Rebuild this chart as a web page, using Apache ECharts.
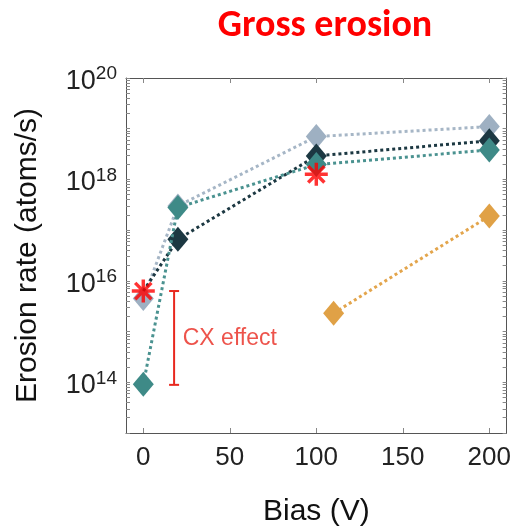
<!DOCTYPE html>
<html>
<head>
<meta charset="utf-8">
<script src="https://cdn.jsdelivr.net/npm/echarts@6/dist/echarts.min.js"></script>
<style>
  html, body { margin: 0; padding: 0; background: #fff; }
  #chart { width: 514px; height: 532px; }
</style>
</head>
<body>
<div id="chart"></div>
<script>
// Bias voltages (V) and erosion rates (atoms/s)
const biasMain = [0, 20, 100, 200];
const rateGrey = [4.5e15, 3.0e17, 7.0e18, 1.1e19];
const rateDark = [6.3e15, 6.6e16, 2.9e18, 5.8e18];
const rateTeal = [9.1e13, 2.8e17, 1.96e18, 3.8e18];
const biasOrange = [110, 200];
const rateOrange = [2.3e15, 1.9e17];
const biasStar = [0, 100];
const rateStar = [6.3e15, 1.26e18];

// CX effect bracket: [bias, upper rate, lower rate]
const cxBar = [17.8, 6.3e15, 8.9e13];
const cxLabel = [22.8, 7.2e14];

// Axis ticks
const xTicks = [0, 50, 100, 150, 200];
const yLabelTicks = [1e14, 1e16, 1e18, 1e20];
const yTicks = [];
for (let e = 13; e <= 20; e++) {
  yTicks.push(Math.pow(10, e));
  if (e < 20) {
    for (let m = 2; m <= 9; m++) yTicks.push(m * Math.pow(10, e));
  }
}

const FONT = "'Liberation Sans', Arial, Helvetica, sans-serif";
const frameColor = '#555';
const tickColor = '#888';

const pairs = (xs, ys) => xs.map((x, i) => [x, ys[i]]);

// eight-armed asterisk marker
const asterisk = 'path://M0 8.5L20 8.5L20 11.5L0 11.5Z' +
  'M8.5 0L11.5 0L11.5 20L8.5 20Z' +
  'M3.99 1.87L18.13 16.01L16.01 18.13L1.87 3.99Z' +
  'M1.87 16.01L16.01 1.87L18.13 3.99L3.99 18.13Z';

function lineSeries(name, xs, ys, color, lineColor, z, hideFirst) {
  return {
    name: name,
    type: 'line',
    data: pairs(xs, ys).map((p, i) =>
      (hideFirst && i === 0) ? { value: p, symbol: 'none' } : p),
    symbol: 'diamond',
    symbolSize: [21, 25],
    itemStyle: { color: color },
    lineStyle: { color: lineColor, width: 3, type: [3, 3] },
    z: z,
    animation: false
  };
}

const chart = echarts.init(document.getElementById('chart'));
chart.setOption({
  animation: false,
  grid: { left: 126, right: 6, top: 78, bottom: 97, containLabel: false },
  graphic: [{
    type: 'text',
    style: {
      text: 'Gross erosion',
      x: 325, y: 26,
      textAlign: 'center',
      textVerticalAlign: 'middle',
      font: "bold 38px Carlito, Lato, 'Open Sans', sans-serif",
      fill: '#ff0000'
    }
  }],
  xAxis: [{
    type: 'value',
    min: -10, max: 210,
    position: 'bottom',
    name: 'Bias (V)',
    nameLocation: 'middle',
    nameGap: 64,
    nameTextStyle: { fontFamily: FONT, fontSize: 30, color: '#111' },
    axisLine: { show: true, onZero: false, lineStyle: { color: frameColor, width: 1 } },
    axisTick: { show: true, inside: true, length: 5, customValues: xTicks, lineStyle: { color: tickColor } },
    axisLabel: { customValues: xTicks, fontFamily: FONT, fontSize: 26, color: '#222', margin: 12 },
    splitLine: { show: false }
  }, {
    type: 'value',
    min: -10, max: 210,
    position: 'top',
    axisLine: { show: true, onZero: false, lineStyle: { color: frameColor, width: 1 } },
    axisTick: { show: true, inside: true, length: 5, customValues: xTicks, lineStyle: { color: tickColor } },
    axisLabel: { show: false },
    splitLine: { show: false }
  }],
  yAxis: [{
    type: 'log',
    logBase: 10,
    min: 1e13, max: 1e20,
    position: 'left',
    name: 'Erosion rate (atoms/s)',
    nameLocation: 'middle',
    nameRotate: 90,
    nameGap: 83,
    nameTextStyle: { fontFamily: FONT, fontSize: 30, color: '#111' },
    splitLine: { show: false },
    axisLine: { show: true, onZero: false, lineStyle: { color: frameColor, width: 1 } },
    axisTick: { show: true, inside: true, length: 4, customValues: yTicks, lineStyle: { color: tickColor } },
    axisLabel: {
      customValues: yLabelTicks,
      margin: 9,
      formatter: function (v) {
        return '{b|10}{e|' + Math.round(Math.log10(v)) + '}';
      },
      rich: {
        b: { fontFamily: FONT, fontSize: 27, color: '#222', padding: [7, 0, 0, 0] },
        e: { fontFamily: FONT, fontSize: 19, color: '#222', padding: [0, 0, 8, 0] }
      }
    }
  }, {
    type: 'log',
    logBase: 10,
    min: 1e13, max: 1e20,
    position: 'right',
    splitLine: { show: false },
    axisLine: { show: true, onZero: false, lineStyle: { color: frameColor, width: 1 } },
    axisTick: { show: true, inside: true, length: 4, customValues: yTicks, lineStyle: { color: tickColor } },
    axisLabel: { show: false }
  }],
  series: [
    lineSeries('grey', biasMain, rateGrey, '#9eb0c2', '#a6b6c6', 2, false),
    lineSeries('dark', biasMain, rateDark, '#1c3842', '#1c3842', 3, true),
    lineSeries('teal', biasMain, rateTeal, '#3e8a87', '#4a9290', 4, false),
    lineSeries('orange', biasOrange, rateOrange, '#e0a146', '#e3a54c', 5, false),
    {
      name: 'measured',
      type: 'scatter',
      data: pairs(biasStar, rateStar),
      symbol: asterisk,
      symbolSize: 23,
      itemStyle: { color: '#ff0000' },
      z: 10
    },
    {
      name: 'cx',
      type: 'custom',
      data: [cxBar],
      dimensions: ['x', 'hi', 'lo'],
      encode: { x: 0, y: [1, 2] },
      z: 6,
      renderItem: function (params, api) {
        const top = api.coord([api.value(0), api.value(1)]);
        const bot = api.coord([api.value(0), api.value(2)]);
        const half = 5;
        const style = { stroke: '#e8281e', lineWidth: 2 };
        return {
          type: 'group',
          children: [
            { type: 'line', shape: { x1: top[0], y1: top[1], x2: bot[0], y2: bot[1] }, style: style },
            { type: 'line', shape: { x1: top[0] - half, y1: top[1], x2: top[0] + half, y2: top[1] }, style: style },
            { type: 'line', shape: { x1: bot[0] - half, y1: bot[1], x2: bot[0] + half, y2: bot[1] }, style: style }
          ]
        };
      }
    },
    {
      name: 'cxText',
      type: 'scatter',
      data: [cxLabel],
      symbolSize: 0,
      label: {
        show: true,
        position: 'right',
        distance: 0,
        formatter: 'CX effect',
        fontFamily: FONT,
        fontSize: 23,
        color: '#e8281e'
      },
      z: 6
    }
  ]
});
</script>
</body>
</html>
